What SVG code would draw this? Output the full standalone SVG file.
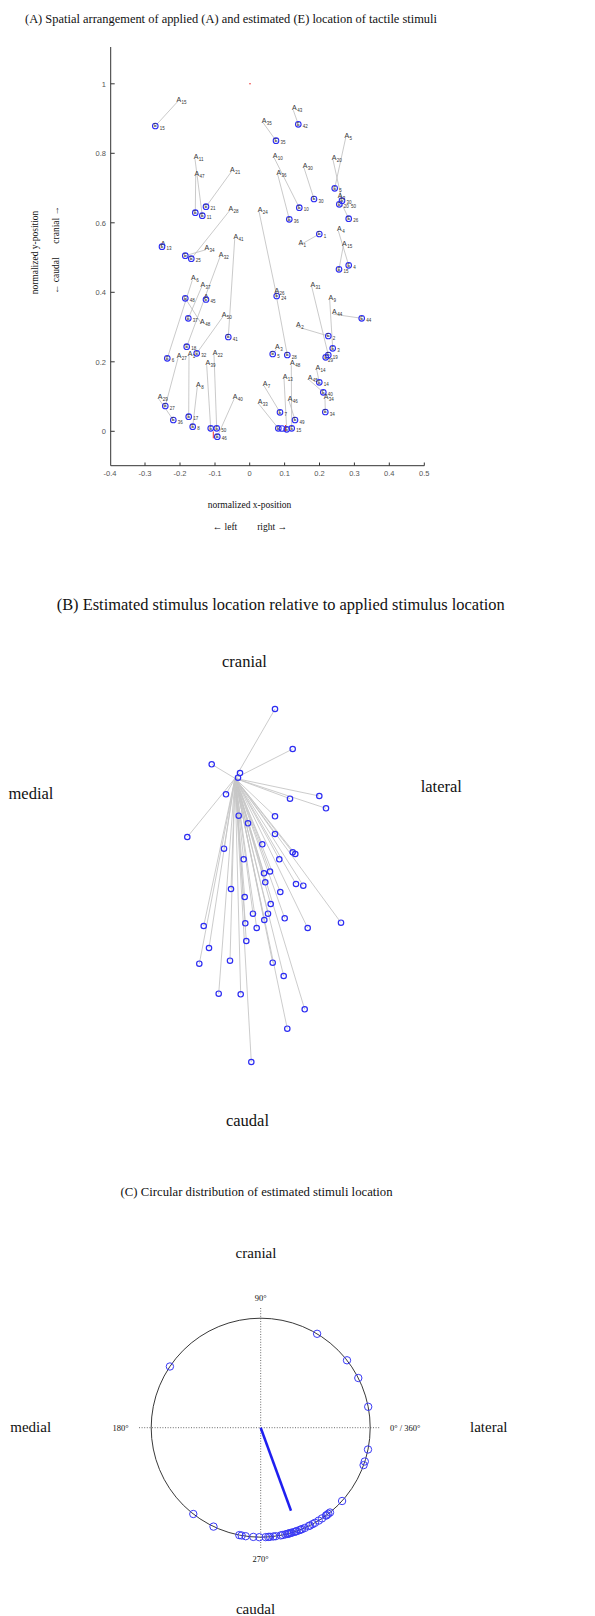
<svg xmlns="http://www.w3.org/2000/svg" width="595" height="1616" viewBox="0 0 595 1616">
<style>
.t{font-family:"Liberation Serif","Times New Roman",serif;fill:#111}
.tk{font-family:"Liberation Sans",Arial,sans-serif;font-size:7.5px;fill:#555}
.ax{stroke:#333;stroke-width:1;fill:none}
.ln{stroke:#bdbdbd;stroke-width:0.8;fill:none}
.lb{stroke:#c6c6c6;stroke-width:0.9;fill:none}
.e{fill:none;stroke:#2d2df2;stroke-width:1.1}
.eb{fill:none;stroke:#2d2df2;stroke-width:1.2}
.ec{fill:none;stroke:#3a3af5;stroke-width:1}
.al{font-family:"Liberation Sans",Arial,sans-serif;font-size:7px;fill:#333}
.s{font-size:4.5px}
.el{font-family:"Liberation Sans",Arial,sans-serif;font-size:4.5px;fill:#333}
.red{stroke:#e33;stroke-width:1}
.dot{stroke:#444;stroke-width:0.8;stroke-dasharray:1 1.6;fill:none}
</style>
<rect width="595" height="1616" fill="#fff"/>

<!-- Panel A -->
<g id="panelA">
<text class="t" x="25" y="22.5" font-size="13.5" textLength="412" lengthAdjust="spacingAndGlyphs">(A) Spatial arrangement of applied (A) and estimated (E) location of tactile stimuli</text>
<g id="axesA">
<path class="ax" d="M110.7 47V465.7H424.3"/>
<path class="ax" d="M110.7 431.3h4M110.7 361.8h4M110.7 292.3h4M110.7 222.8h4M110.7 153.3h4M110.7 83.8h4"/>
<path class="ax" d="M145 465.7v-3.2M180 465.7v-3.2M215 465.7v-3.2M249.7 465.7v-3.2M284.6 465.7v-3.2M319.5 465.7v-3.2M354.4 465.7v-3.2M389.3 465.7v-3.2M424.3 465.7v-3.2"/>
<g class="tk" text-anchor="end">
<text x="106" y="434">0</text><text x="106" y="364.5">0.2</text><text x="106" y="295">0.4</text><text x="106" y="225.5">0.6</text><text x="106" y="156">0.8</text><text x="106" y="86.5">1</text>
</g>
<g class="tk" text-anchor="middle">
<text x="110" y="476">-0.4</text><text x="145" y="476">-0.3</text><text x="180" y="476">-0.2</text><text x="215" y="476">-0.1</text><text x="249.7" y="476">0</text><text x="284.6" y="476">0.1</text><text x="319.5" y="476">0.2</text><text x="354.4" y="476">0.3</text><text x="389.3" y="476">0.4</text><text x="424.3" y="476">0.5</text>
</g>
<text class="t" x="249.5" y="508" font-size="9.5" text-anchor="middle">normalized x-position</text>
<text class="t" x="212.7" y="530" font-size="9.5">← left</text>
<text class="t" x="287" y="530" font-size="9.5" text-anchor="end">right →</text>
<text class="t" transform="translate(38,252.5) rotate(-90)" font-size="9.5" text-anchor="middle">normalized y-position</text>
<text class="t" transform="translate(58.5,294) rotate(-90)" font-size="9.5">← caudal</text>
<text class="t" transform="translate(58.5,206) rotate(-90)" font-size="9.5" text-anchor="end">cranial →</text>
</g>

<g id="connectorsA">
<path class="ln" d="M177.7 101.5L155.3 126M195 159.2L202.3 215.7M195.7 175.8L195.3 212.7M231.3 171.8L206 206.7M229.7 210.5L191.3 258.7M205.7 249.8L185.3 255.7M234.7 239.2L228.3 337M220 256.8L186.7 346.7M223 316.5L196.7 353.3M192.3 280.2L167.3 358.3M201.7 286.8L188.3 318.3M201.3 323.5L185.3 298.3M178 358.2L165.3 406M159 399.2L173.3 420M189 355.8L188.7 416.7M197.3 386.8L192.7 426.7M214 354.8L216.7 428.3M206.7 365.2L210.7 428.3M234 399.2L217.3 436.7M293.3 110.2L298.3 124.3M263 122.5L276 140.7M345.7 137.8L334.7 188.3M333 159.8L342 200.7M274 157.5L299.3 207.7M277.7 174.5L289.3 219.3M304 167.8L314 199M339 198L348.7 218.7M259 211.5L276.7 296M299.7 245.2L319.3 234M338.3 230.8L348.7 265.3M343.3 245.8L339 269.3M275.7 292.5L287.3 355M311.7 286.5L328.3 355M329.7 299.8L332.7 348.3M297.3 326.8L328.3 336M333.3 314.2L361.7 318.3M276.3 349.2L272.7 354M291.3 365.2L291.7 428.3M284 378.5L286.7 429.3M264 385.8L280 412.3M259 404.2L278.3 428.3M289 400.8L295 420M316.7 369.8L319.3 382.3M309 379.8L323.3 392.3M325 399.2L325.3 412"/>
</g>

<g id="refmarks">
<circle cx="250" cy="83.7" r="0.8" fill="#e33"/>
<line class="red" x1="213.3" y1="431.5" x2="213.3" y2="438.3"/>
<line class="red" x1="285.5" y1="425" x2="285.5" y2="432"/>
</g>

<g id="stimuli">
<g id="s15"><text class="al" x="176.4" y="101.5">A<tspan class="s" dx="0.5" dy="2">15</tspan></text><circle class="e" cx="155.3" cy="126" r="2.8"/><text class="el" x="153.8" y="127.2">E<tspan x="159.8" y="129.7">15</tspan></text></g>
<g id="s11"><text class="al" x="193.7" y="159.2">A<tspan class="s" dx="0.5" dy="2">11</tspan></text><circle class="e" cx="202.3" cy="215.7" r="2.8"/><text class="el" x="200.8" y="216.9">E<tspan x="206.8" y="219.4">11</tspan></text></g>
<g id="s47"><text class="al" x="194.4" y="175.8">A<tspan class="s" dx="0.5" dy="2">47</tspan></text><circle class="e" cx="195.3" cy="212.7" r="2.8"/><text class="el" x="193.8" y="213.9">E</text></g>
<g id="s21"><text class="al" x="230" y="171.8">A<tspan class="s" dx="0.5" dy="2">21</tspan></text><circle class="e" cx="206" cy="206.7" r="2.8"/><text class="el" x="204.5" y="207.9">E<tspan x="210.5" y="210.4">21</tspan></text></g>
<g id="s28"><text class="al" x="228.4" y="210.5">A<tspan class="s" dx="0.5" dy="2">28</tspan></text><circle class="e" cx="191.3" cy="258.7" r="2.8"/><text class="el" x="189.8" y="259.9">E<tspan x="195.8" y="262.4">25</tspan></text></g>
<g id="s34"><text class="al" x="204.4" y="249.8">A<tspan class="s" dx="0.5" dy="2">34</tspan></text><circle class="e" cx="185.3" cy="255.7" r="2.8"/><text class="el" x="183.8" y="256.9">E</text></g>
<g id="s13"><text class="al" x="160.7" y="245.5">A</text><circle class="e" cx="162" cy="246.7" r="2.8"/><text class="el" x="160.5" y="247.9">E<tspan x="166.5" y="250.4">13</tspan></text></g>
<g id="s41"><text class="al" x="233.4" y="239.2">A<tspan class="s" dx="0.5" dy="2">41</tspan></text><circle class="e" cx="228.3" cy="337" r="2.8"/><text class="el" x="226.8" y="338.2">E<tspan x="232.8" y="340.7">41</tspan></text></g>
<g id="s32"><text class="al" x="218.7" y="256.8">A<tspan class="s" dx="0.5" dy="2">32</tspan></text><circle class="e" cx="186.7" cy="346.7" r="2.8"/><text class="el" x="185.2" y="347.9">E<tspan x="191.2" y="350.4">18</tspan></text></g>
<g id="s50"><text class="al" x="221.7" y="316.5">A<tspan class="s" dx="0.5" dy="2">50</tspan></text><circle class="e" cx="196.7" cy="353.3" r="2.8"/><text class="el" x="195.2" y="354.5">E<tspan x="201.2" y="357">32</tspan></text></g>
<g id="s6"><text class="al" x="191" y="280.2">A<tspan class="s" dx="0.5" dy="2">6</tspan></text><circle class="e" cx="167.3" cy="358.3" r="2.8"/><text class="el" x="165.8" y="359.5">E<tspan x="171.8" y="362">6</tspan></text></g>
<g id="s37"><text class="al" x="200.4" y="286.8">A<tspan class="s" dx="0.5" dy="2">37</tspan></text><circle class="e" cx="188.3" cy="318.3" r="2.8"/><text class="el" x="186.8" y="319.5">E<tspan x="192.8" y="322">37</tspan></text></g>
<g id="s48"><text class="al" x="200" y="323.5">A<tspan class="s" dx="0.5" dy="2">48</tspan></text><circle class="e" cx="185.3" cy="298.3" r="2.8"/><text class="el" x="183.8" y="299.5">E<tspan x="189.8" y="302">48</tspan></text></g>
<g id="s45"><text class="al" x="203.7" y="299">A</text><circle class="e" cx="206" cy="299.5" r="2.8"/><text class="el" x="204.5" y="300.7">E<tspan x="210.5" y="303.2">45</tspan></text></g>
<g id="s27"><text class="al" x="176.7" y="358.2">A<tspan class="s" dx="0.5" dy="2">27</tspan></text><circle class="e" cx="165.3" cy="406" r="2.8"/><text class="el" x="163.8" y="407.2">E<tspan x="169.8" y="409.7">27</tspan></text></g>
<g id="s29"><text class="al" x="157.7" y="399.2">A<tspan class="s" dx="0.5" dy="2">29</tspan></text><circle class="e" cx="173.3" cy="420" r="2.8"/><text class="el" x="171.8" y="421.2">E<tspan x="177.8" y="423.7">36</tspan></text></g>
<g id="s17"><text class="al" x="187.7" y="355.8">A<tspan class="s" dx="0.5" dy="2">1</tspan></text><circle class="e" cx="188.7" cy="416.7" r="2.8"/><text class="el" x="187.2" y="417.9">E<tspan x="193.2" y="420.4">17</tspan></text></g>
<g id="s8"><text class="al" x="196" y="386.8">A<tspan class="s" dx="0.5" dy="2">8</tspan></text><circle class="e" cx="192.7" cy="426.7" r="2.8"/><text class="el" x="191.2" y="427.9">E<tspan x="197.2" y="430.4">8</tspan></text></g>
<g id="s22"><text class="al" x="212.7" y="354.8">A<tspan class="s" dx="0.5" dy="2">22</tspan></text><circle class="e" cx="216.7" cy="428.3" r="2.8"/><text class="el" x="215.2" y="429.5">E<tspan x="221.2" y="432">50</tspan></text></g>
<g id="s39"><text class="al" x="205.4" y="365.2">A<tspan class="s" dx="0.5" dy="2">39</tspan></text><circle class="e" cx="210.7" cy="428.3" r="2.8"/><text class="el" x="209.2" y="429.5">E</text></g>
<g id="s40"><text class="al" x="232.7" y="399.2">A<tspan class="s" dx="0.5" dy="2">40</tspan></text><circle class="e" cx="217.3" cy="436.7" r="2.8"/><text class="el" x="215.8" y="437.9">E<tspan x="221.8" y="440.4">46</tspan></text></g>
<g id="s43"><text class="al" x="292" y="110.2">A<tspan class="s" dx="0.5" dy="2">43</tspan></text><circle class="e" cx="298.3" cy="124.3" r="2.8"/><text class="el" x="296.8" y="125.5">E<tspan x="302.8" y="128">42</tspan></text></g>
<g id="s35"><text class="al" x="261.7" y="122.5">A<tspan class="s" dx="0.5" dy="2">35</tspan></text><circle class="e" cx="276" cy="140.7" r="2.8"/><text class="el" x="274.5" y="141.9">E<tspan x="280.5" y="144.4">35</tspan></text></g>
<g id="s5"><text class="al" x="344.4" y="137.8">A<tspan class="s" dx="0.5" dy="2">5</tspan></text><circle class="e" cx="334.7" cy="188.3" r="2.8"/><text class="el" x="333.2" y="189.5">E<tspan x="339.2" y="192">5</tspan></text></g>
<g id="s20"><text class="al" x="331.7" y="159.8">A<tspan class="s" dx="0.5" dy="2">20</tspan></text><circle class="e" cx="342" cy="200.7" r="2.8"/><text class="el" x="340.5" y="201.9">E<tspan x="346.5" y="204.4">30</tspan></text></g>
<g id="s10"><text class="al" x="272.7" y="157.5">A<tspan class="s" dx="0.5" dy="2">10</tspan></text><circle class="e" cx="299.3" cy="207.7" r="2.8"/><text class="el" x="297.8" y="208.9">E<tspan x="303.8" y="211.4">10</tspan></text></g>
<g id="s36"><text class="al" x="276.4" y="174.5">A<tspan class="s" dx="0.5" dy="2">36</tspan></text><circle class="e" cx="289.3" cy="219.3" r="2.8"/><text class="el" x="287.8" y="220.5">E<tspan x="293.8" y="223">36</tspan></text></g>
<g id="s30"><text class="al" x="302.7" y="167.8">A<tspan class="s" dx="0.5" dy="2">30</tspan></text><circle class="e" cx="314" cy="199" r="2.8"/><text class="el" x="312.5" y="200.2">E<tspan x="318.5" y="202.7">30</tspan></text></g>
<g id="s26"><text class="al" x="337.7" y="198">A<tspan class="s" dx="0.5" dy="2">3</tspan></text><circle class="e" cx="348.7" cy="218.7" r="2.8"/><text class="el" x="347.2" y="219.9">E<tspan x="353.2" y="222.4">26</tspan></text></g>
<g id="s20b"><circle class="e" cx="339.3" cy="204.3" r="2.8"/><text class="el" x="337.8" y="205.5">E<tspan x="343.8" y="208">20</tspan><tspan x="351" y="207.5">50</tspan></text></g>
<g id="s24"><text class="al" x="257.7" y="211.5">A<tspan class="s" dx="0.5" dy="2">24</tspan></text><circle class="e" cx="276.7" cy="296" r="2.8"/><text class="el" x="275.2" y="297.2">E<tspan x="281.2" y="299.7">24</tspan></text></g>
<g id="s1"><text class="al" x="298.4" y="245.2">A<tspan class="s" dx="0.5" dy="2">1</tspan></text><circle class="e" cx="319.3" cy="234" r="2.8"/><text class="el" x="317.8" y="235.2">E<tspan x="323.8" y="237.7">1</tspan></text></g>
<g id="s4"><text class="al" x="337" y="230.8">A<tspan class="s" dx="0.5" dy="2">4</tspan></text><circle class="e" cx="348.7" cy="265.3" r="2.8"/><text class="el" x="347.2" y="266.5">E<tspan x="353.2" y="269">4</tspan></text></g>
<g id="s16"><text class="al" x="342" y="245.8">A<tspan class="s" dx="0.5" dy="2">15</tspan></text><circle class="e" cx="339" cy="269.3" r="2.8"/><text class="el" x="337.5" y="270.5">E<tspan x="343.5" y="273">15</tspan></text></g>
<g id="s26b"><text class="al" x="274.4" y="292.5">A<tspan class="s" dx="0.5" dy="2">26</tspan></text><circle class="e" cx="287.3" cy="355" r="2.8"/><text class="el" x="285.8" y="356.2">E<tspan x="291.8" y="358.7">28</tspan></text></g>
<g id="s31"><text class="al" x="310.4" y="286.5">A<tspan class="s" dx="0.5" dy="2">31</tspan></text><circle class="e" cx="328.3" cy="355" r="2.8"/><text class="el" x="326.8" y="356.2">E<tspan x="332.8" y="358.7">19</tspan></text></g>
<g id="s9"><text class="al" x="328.4" y="299.8">A<tspan class="s" dx="0.5" dy="2">9</tspan></text><circle class="e" cx="332.7" cy="348.3" r="2.8"/><text class="el" x="331.2" y="349.5">E<tspan x="337.2" y="352">3</tspan></text></g>
<g id="s2"><text class="al" x="296" y="326.8">A<tspan class="s" dx="0.5" dy="2">2</tspan></text><circle class="e" cx="328.3" cy="336" r="2.8"/><text class="el" x="326.8" y="337.2">E<tspan x="332.8" y="339.7">2</tspan></text></g>
<g id="s44"><text class="al" x="332" y="314.2">A<tspan class="s" dx="0.5" dy="2">44</tspan></text><circle class="e" cx="361.7" cy="318.3" r="2.8"/><text class="el" x="360.2" y="319.5">E<tspan x="366.2" y="322">44</tspan></text></g>
<g id="s19"><circle class="e" cx="325.7" cy="357.3" r="2.8"/><text class="el" x="324.2" y="358.5">E<tspan x="328" y="362">29</tspan></text></g>
<g id="s3"><text class="al" x="275" y="349.2">A<tspan class="s" dx="0.5" dy="2">3</tspan></text><circle class="e" cx="272.7" cy="354" r="2.8"/><text class="el" x="271.2" y="355.2">E<tspan x="277.2" y="357.7">5</tspan></text></g>
<g id="s42"><text class="al" x="290" y="365.2">A<tspan class="s" dx="0.5" dy="2">48</tspan></text><circle class="e" cx="291.7" cy="428.3" r="2.8"/><text class="el" x="290.2" y="429.5">E<tspan x="296.2" y="432">15</tspan></text></g>
<g id="s12"><text class="al" x="282.7" y="378.5">A<tspan class="s" dx="0.5" dy="2">13</tspan></text><circle class="e" cx="286.7" cy="429.3" r="2.8"/><text class="el" x="285.2" y="430.5">E</text></g>
<g id="s7"><text class="al" x="262.7" y="385.8">A<tspan class="s" dx="0.5" dy="2">7</tspan></text><circle class="e" cx="280" cy="412.3" r="2.8"/><text class="el" x="278.5" y="413.5">E<tspan x="284.5" y="416">7</tspan></text></g>
<g id="s33"><text class="al" x="257.7" y="404.2">A<tspan class="s" dx="0.5" dy="2">33</tspan></text><circle class="e" cx="278.3" cy="428.3" r="2.8"/><text class="el" x="276.8" y="429.5">E</text><circle class="e" cx="282" cy="428.5" r="2.8"/></g>
<g id="s46"><text class="al" x="287.7" y="400.8">A<tspan class="s" dx="0.5" dy="2">46</tspan></text><circle class="e" cx="295" cy="420" r="2.8"/><text class="el" x="293.5" y="421.2">E<tspan x="299.5" y="423.7">49</tspan></text></g>
<g id="s14"><text class="al" x="315.4" y="369.8">A<tspan class="s" dx="0.5" dy="2">14</tspan></text><circle class="e" cx="319.3" cy="382.3" r="2.8"/><text class="el" x="317.8" y="383.5">E<tspan x="323.8" y="386">14</tspan></text></g>
<g id="s49"><text class="al" x="307.7" y="379.8">A<tspan class="s" dx="0.5" dy="2">45</tspan></text><circle class="e" cx="323.3" cy="392.3" r="2.8"/><text class="el" x="321.8" y="393.5">E<tspan x="327.8" y="396">40</tspan></text></g>
<g id="s34b"><text class="al" x="323.7" y="399.2">A<tspan class="s" dx="0.5" dy="2">34</tspan></text><circle class="e" cx="325.3" cy="412" r="2.8"/><text class="el" x="323.8" y="413.2">E<tspan x="329.8" y="415.7">34</tspan></text></g>
</g>
</g>

<!-- Panel B -->
<g id="panelB">
<text class="t" x="56.7" y="610" font-size="17" textLength="448" lengthAdjust="spacingAndGlyphs">(B) Estimated stimulus location relative to applied stimulus location</text>
<text class="t" x="244.5" y="666.7" font-size="16.5" text-anchor="middle">cranial</text>
<text class="t" x="8.5" y="799" font-size="16.5">medial</text>
<text class="t" x="420.7" y="792" font-size="16.5">lateral</text>
<text class="t" x="247.5" y="1126" font-size="16.5" text-anchor="middle">caudal</text>
<g id="connectorsB">
<path class="lb" d="M235 778.3L275 709M235 778.3L292.7 749M235 778.3L211.7 764.3M235 778.3L240 773M235 778.3L226 794.3M235 778.3L319.3 796M235 778.3L290 798.7M235 778.3L326 808.3M235 778.3L187.3 837M235 778.3L238.7 815.7M235 778.3L248 823.3M235 778.3L275 816.3M235 778.3L275 834M235 778.3L224 848.7M235 778.3L262.3 844.3M235 778.3L292.7 852.3M235 778.3L295.3 854M235 778.3L243.7 859.3M235 778.3L279.3 859.3M235 778.3L264 873.3M235 778.3L270 871.5M235 778.3L265.3 882.3M235 778.3L296 884M235 778.3L303.3 885.7M235 778.3L231 889M235 778.3L244.7 897M235 778.3L280.3 892M235 778.3L270.7 904M235 778.3L253 913.7M235 778.3L268 913.7M235 778.3L284.7 918.3M235 778.3L264.3 920M235 778.3L341 922.7M235 778.3L203.7 926M235 778.3L245.3 923.3M235 778.3L256.7 928M235 778.3L307.7 928M235 778.3L246.3 941M235 778.3L209 948M235 778.3L199.3 963.7M235 778.3L230 960.7M235 778.3L272.7 962.7M235 778.3L283.7 976M235 778.3L218.7 993.7M235 778.3L240.7 994.3M235 778.3L304.7 1009.3M235 778.3L287.3 1028.7M235 778.3L251.3 1062"/>
</g>
<g id="pointsB" class="eb">
<circle cx="275" cy="709" r="2.7"/><circle cx="292.7" cy="749" r="2.7"/><circle cx="211.7" cy="764.3" r="2.7"/><circle cx="240" cy="773" r="2.7"/><circle cx="238" cy="777.7" r="2.7"/><circle cx="226" cy="794.3" r="2.7"/><circle cx="319.3" cy="796" r="2.7"/><circle cx="290" cy="798.7" r="2.7"/><circle cx="326" cy="808.3" r="2.7"/><circle cx="187.3" cy="837" r="2.7"/><circle cx="238.7" cy="815.7" r="2.7"/><circle cx="248" cy="823.3" r="2.7"/><circle cx="275" cy="816.3" r="2.7"/><circle cx="275" cy="834" r="2.7"/><circle cx="224" cy="848.7" r="2.7"/><circle cx="262.3" cy="844.3" r="2.7"/><circle cx="292.7" cy="852.3" r="2.7"/><circle cx="295.3" cy="854" r="2.7"/><circle cx="243.7" cy="859.3" r="2.7"/><circle cx="279.3" cy="859.3" r="2.7"/><circle cx="264" cy="873.3" r="2.7"/><circle cx="270" cy="871.5" r="2.7"/><circle cx="265.3" cy="882.3" r="2.7"/><circle cx="296" cy="884" r="2.7"/><circle cx="303.3" cy="885.7" r="2.7"/><circle cx="231" cy="889" r="2.7"/><circle cx="244.7" cy="897" r="2.7"/><circle cx="280.3" cy="892" r="2.7"/><circle cx="270.7" cy="904" r="2.7"/><circle cx="253" cy="913.7" r="2.7"/><circle cx="268" cy="913.7" r="2.7"/><circle cx="284.7" cy="918.3" r="2.7"/><circle cx="264.3" cy="920" r="2.7"/><circle cx="341" cy="922.7" r="2.7"/><circle cx="203.7" cy="926" r="2.7"/><circle cx="245.3" cy="923.3" r="2.7"/><circle cx="256.7" cy="928" r="2.7"/><circle cx="307.7" cy="928" r="2.7"/><circle cx="246.3" cy="941" r="2.7"/><circle cx="209" cy="948" r="2.7"/><circle cx="199.3" cy="963.7" r="2.7"/><circle cx="230" cy="960.7" r="2.7"/><circle cx="272.7" cy="962.7" r="2.7"/><circle cx="283.7" cy="976" r="2.7"/><circle cx="218.7" cy="993.7" r="2.7"/><circle cx="240.7" cy="994.3" r="2.7"/><circle cx="304.7" cy="1009.3" r="2.7"/><circle cx="287.3" cy="1028.7" r="2.7"/><circle cx="251.3" cy="1062" r="2.7"/>
</g>
</g>

<!-- Panel C -->
<g id="panelC">
<text class="t" x="120.6" y="1196" font-size="13" textLength="272" lengthAdjust="spacingAndGlyphs">(C) Circular distribution of estimated stimuli location</text>
<text class="t" x="256" y="1258" font-size="15" text-anchor="middle">cranial</text>
<text class="t" x="10.3" y="1432" font-size="15">medial</text>
<text class="t" x="470" y="1432" font-size="15">lateral</text>
<text class="t" x="255.5" y="1614" font-size="15" text-anchor="middle">caudal</text>
<g id="axesC">
<path class="dot" d="M139 1427.7H380M260.7 1308V1548"/>
<circle cx="260.7" cy="1427.7" r="109.5" fill="none" stroke="#222" stroke-width="0.9"/>
<g class="t" font-size="8.5" fill="#333">
<text x="260.7" y="1300.5" text-anchor="middle">90°</text>
<text x="112.5" y="1430.7">180°</text>
<text x="390" y="1430.7">0° / 360°</text>
<text x="260.7" y="1562" text-anchor="middle">270°</text>
</g>
</g>
<g id="pointsC" class="ec">
<circle cx="317.1" cy="1333.8" r="3.7"/><circle cx="347" cy="1360.3" r="3.7"/><circle cx="358.3" cy="1378" r="3.7"/><circle cx="368.2" cy="1406.8" r="3.7"/><circle cx="368" cy="1449.5" r="3.7"/><circle cx="364.8" cy="1461.5" r="3.7"/><circle cx="363.6" cy="1465.1" r="3.7"/><circle cx="169.9" cy="1366.5" r="3.7"/><circle cx="342.1" cy="1501" r="3.7"/><circle cx="193.3" cy="1514" r="3.7"/><circle cx="213.5" cy="1526.6" r="3.7"/>
<circle cx="239.3" cy="1535.1" r="3.7"/><circle cx="241.7" cy="1535.5" r="3.7"/><circle cx="245.7" cy="1536.2" r="3.7"/><circle cx="253.3" cy="1536.9" r="3.7"/><circle cx="259.3" cy="1537.2" r="3.7"/><circle cx="265.7" cy="1537.1" r="3.7"/><circle cx="268.3" cy="1536.9" r="3.7"/><circle cx="270" cy="1536.8" r="3.7"/><circle cx="273.3" cy="1536.5" r="3.7"/><circle cx="275.7" cy="1536.2" r="3.7"/><circle cx="280.7" cy="1535.4" r="3.7"/><circle cx="282.7" cy="1535" r="3.7"/><circle cx="285.3" cy="1534.4" r="3.7"/><circle cx="287.3" cy="1533.9" r="3.7"/><circle cx="288.2" cy="1533.7" r="3.7"/><circle cx="289.3" cy="1533.4" r="3.7"/><circle cx="290.7" cy="1533" r="3.7"/><circle cx="291.7" cy="1532.7" r="3.7"/><circle cx="294" cy="1532" r="3.7"/><circle cx="295.7" cy="1531.5" r="3.7"/><circle cx="296.7" cy="1531.1" r="3.7"/><circle cx="299.3" cy="1530.2" r="3.7"/><circle cx="300.7" cy="1529.6" r="3.7"/><circle cx="302" cy="1529.1" r="3.7"/><circle cx="304.7" cy="1528" r="3.7"/><circle cx="308.7" cy="1526.1" r="3.7"/><circle cx="310" cy="1525.5" r="3.7"/><circle cx="312.7" cy="1524.1" r="3.7"/><circle cx="315" cy="1522.8" r="3.7"/><circle cx="318.7" cy="1520.6" r="3.7"/><circle cx="322" cy="1518.4" r="3.7"/><circle cx="326" cy="1515.6" r="3.7"/><circle cx="326.7" cy="1515.1" r="3.7"/><circle cx="328.3" cy="1513.8" r="3.7"/><circle cx="330" cy="1512.5" r="3.7"/>
</g>
<line id="meanVector" x1="260.7" y1="1427.7" x2="291" y2="1510.7" stroke="#1f1ff0" stroke-width="2.5"/>
</g>
</svg>
